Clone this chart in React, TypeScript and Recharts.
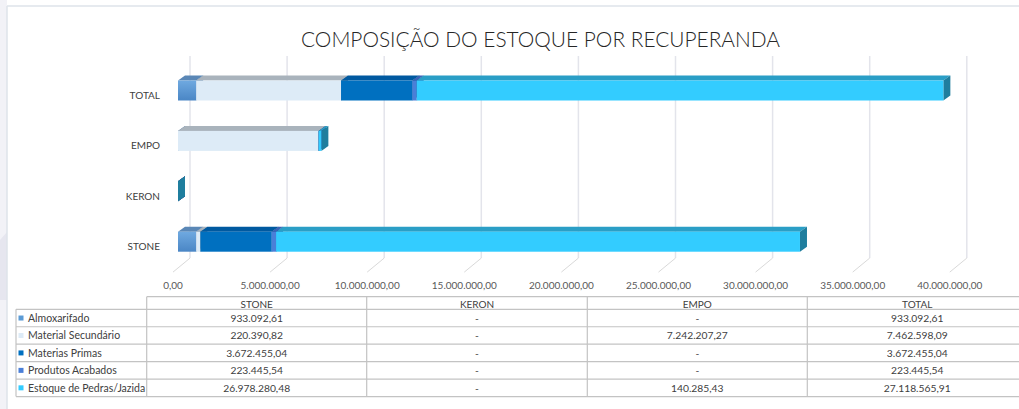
import React from 'react';
import { BarChart, Bar, XAxis, YAxis, CartesianGrid } from 'recharts';

const categories = ['STONE', 'KERON', 'EMPO', 'TOTAL'];
const seriesNames = ['Almoxarifado', 'Material Secundário', 'Materias Primas', 'Produtos Acabados', 'Estoque de Pedras/Jazida'];
const almoxarifado = [933092.61, 0, 0, 933092.61];
const materialSecundario = [220390.82, 0, 7242207.27, 7462598.09];
const materiasPrimas = [3672455.04, 0, 0, 3672455.04];
const produtosAcabados = [223445.54, 0, 0, 223445.54];
const estoquePedras = [26978280.48, 0, 140285.43, 27118565.91];
const xTicks = [0, 5000000, 10000000, 15000000, 20000000, 25000000, 30000000, 35000000, 40000000];

const seriesValues = [almoxarifado, materialSecundario, materiasPrimas, produtosAcabados, estoquePedras];
const seriesKeys = ['s0', 's1', 's2', 's3', 's4'];

const frontColors = ['url(#almoxGrad)', '#DDEBF7', '#0070C0', '#4A7FD8', '#33CCFF'];
const legendColors = ['#5B9BD5', '#DDEBF7', '#0070C0', '#4A7FD8', '#33CCFF'];
const topColors = ['#5A87B6', '#A9B3BC', '#0059A0', '#3A63B8', '#2A9EC6'];
const sideColors = ['#3F6F9E', '#8C969E', '#004A85', '#2F52A0', '#1F7E9E'];

const data = categories.map((c, i) => {
  const row: any = { name: c };
  seriesKeys.forEach((k, s) => { row[k] = seriesValues[s][i]; });
  return row;
});

function fmt(v: number, zeroDash = true) {
  if (v === 0 && zeroDash) return '-';
  const [i, d] = v.toFixed(2).split('.');
  return i.replace(/\B(?=(\d{3})+(?!\d))/g, '.') + ',' + d;
}

const DX = 7;
const DY = 5;

const make3D = (s: number) => (p: any) => {
  const x = p.x ?? 0;
  const y = p.y ?? 0;
  const w = Math.max(0, p.width ?? 0);
  const h = p.height ?? 0;
  if (!h) return <g />;
  return (
    <g>
      <polygon points={`${x},${y} ${x + DX},${y - DY} ${x + w + DX},${y - DY} ${x + w},${y}`} fill={topColors[s]} />
      <polygon points={`${x + w},${y} ${x + w + DX},${y - DY} ${x + w + DX},${y + h - DY} ${x + w},${y + h}`} fill={sideColors[s]} />
      {w > 0 && <rect x={x} y={y} width={w} height={h} fill={frontColors[s]} />}
    </g>
  );
};

const gridLine = (p: any) => {
  const x = p.x1;
  const top = p.y1;
  const bottom = p.y2;
  return (
    <g key={p.key}>
      <line x1={x + 12} y1={top - 9.5} x2={x + 12} y2={bottom - 9} stroke="#E3E4EB" strokeWidth={1.5} />
      <line x1={x + 12} y1={bottom - 9} x2={x - 5} y2={bottom + 5} stroke="#D9D9D9" strokeWidth={1} />
    </g>
  );
};

const XTick = (p: any) => (
  <text x={p.x - 5} y={p.y + 18} textAnchor="middle" dominantBaseline="central" fontFamily="Lato" fontSize={10} fill="#595959">
    {fmt(p.payload.value, false)}
  </text>
);

const YTick = (p: any) => (
  <text x={160} y={p.y + 4} textAnchor="end" dominantBaseline="central" fontFamily="Lato" fontSize={10} fill="#404040">
    {p.payload.value}
  </text>
);

const tableCols = ['STONE', 'KERON', 'EMPO', 'TOTAL'];
const colX = [146.7, 366.7, 587.3, 807.3, 1027.3];
const headerTop = 296.7;
const headerH = 12.6;
const rowH = 17.45;
const tableLeft = 16;

function DataTable() {
  const rowYs = [0, 1, 2, 3, 4, 5].map((i) => headerTop + headerH + i * rowH);
  const stroke = '#C3C3C3';
  return (
    <svg width={1019} height={409} style={{ position: 'absolute', left: 0, top: 0 }}>
      <line x1={colX[0]} y1={headerTop} x2={1019} y2={headerTop} stroke={stroke} strokeWidth={1.2} />
      {rowYs.map((y, i) => (
        <line key={'h' + i} x1={tableLeft} y1={y} x2={1019} y2={y} stroke={stroke} strokeWidth={1.2} />
      ))}
      <line x1={tableLeft} y1={rowYs[0]} x2={tableLeft} y2={rowYs[5]} stroke={stroke} strokeWidth={1.2} />
      {colX.map((x, i) => (
        <line key={'v' + i} x1={x} y1={headerTop} x2={x} y2={rowYs[5]} stroke={stroke} strokeWidth={1.2} />
      ))}
      {tableCols.map((c, i) => (
        <text key={'c' + i} x={(colX[i] + colX[i + 1]) / 2} y={headerTop + headerH / 2 + 0.5} textAnchor="middle" dominantBaseline="central" fontFamily="Lato" fontSize={10} fill="#404040">
          {c}
        </text>
      ))}
      {seriesNames.map((n, s) => {
        const cy = (rowYs[s] + rowYs[s + 1]) / 2;
        const catIdx = tableCols.map((c) => categories.indexOf(c));
        return (
          <g key={'r' + s}>
            <rect x={18.5} y={cy - 2.5} width={5} height={5} fill={legendColors[s]} />
            <text x={28} y={cy} dominantBaseline="central" fontFamily="Lato" fontSize={10.5} fill="#404040">{n}</text>
            {catIdx.map((ci, j) => (
              <text key={j} x={(colX[j] + colX[j + 1]) / 2} y={cy} textAnchor="middle" dominantBaseline="central" fontFamily="Lato" fontSize={10.3} fill="#404040">
                {fmt(seriesValues[s][ci])}
              </text>
            ))}
          </g>
        );
      })}
    </svg>
  );
}

export default function App() {
  return (
    <div style={{ position: 'absolute', left: 0, top: 0, width: 1019, height: 409, background: '#fff', overflow: 'hidden' }}>
      <svg width={1019} height={409} style={{ position: 'absolute', left: 0, top: 0 }}>
        <defs>
          <linearGradient id="almoxGrad" x1="0" y1="0" x2="0" y2="1">
            <stop offset="0%" stopColor="#6FA9E0" />
            <stop offset="100%" stopColor="#4A86C5" />
          </linearGradient>
        </defs>
        <rect x={0} y={0} width={7} height={409} fill="#F2F2F7" />
        <polygon points="0,240 7,232 7,300 0,300" fill="#E6E6EF" />
        <line x1={7} y1={6} x2={1019} y2={6} stroke="#DEE3EA" strokeWidth={1.5} />
        <line x1={7} y1={6} x2={7} y2={409} stroke="#DEE3EA" strokeWidth={1.5} />
        <text x={540.5} y={46.5} textAnchor="middle" fontFamily="Lato" fontWeight={300} fontSize={21} fill="#262626" textLength={479} lengthAdjust="spacingAndGlyphs">
          COMPOSIÇÃO DO ESTOQUE POR RECUPERANDA
        </text>
      </svg>
      <div style={{ position: 'absolute', left: 0, top: 0 }}>
        <BarChart
          width={1019}
          height={409}
          data={data}
          layout="vertical"
          margin={{ top: 65.5, right: 64.2, bottom: 111.9, left: 118 }}
          barSize={20}
        >
          <CartesianGrid horizontal={false} vertical={gridLine} />
          <XAxis
            type="number"
            domain={[0, 40000000]}
            ticks={xTicks}
            axisLine={false}
            tickLine={false}
            tickSize={0}
            tickMargin={0}
            height={30}
            interval={0}
            tick={<XTick />}
          />
          <YAxis
            type="category"
            dataKey="name"
            reversed
            width={60}
            axisLine={false}
            tickLine={false}
            tick={<YTick />}
          />
          {seriesKeys.map((k, s) => (
            <Bar key={k} dataKey={k} stackId="a" isAnimationActive={false} shape={make3D(s)} />
          ))}
        </BarChart>
      </div>
      <DataTable />
    </div>
  );
}
